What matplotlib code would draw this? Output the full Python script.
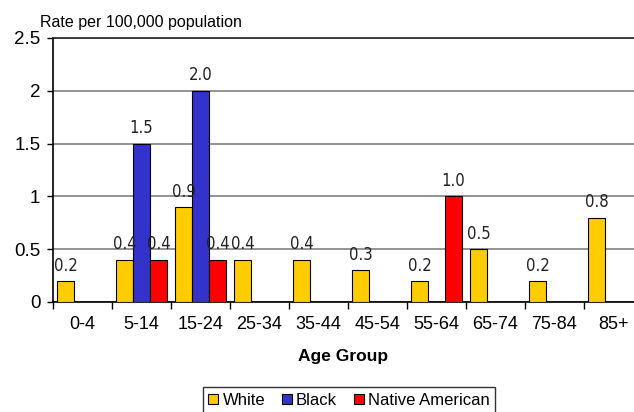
import matplotlib
matplotlib.use("Agg")
import matplotlib.pyplot as plt
import numpy as np

age_groups = ["0-4", "5-14", "15-24", "25-34", "35-44", "45-54", "55-64", "65-74", "75-84", "85+"]
white = [0.2, 0.4, 0.9, 0.4, 0.4, 0.3, 0.2, 0.5, 0.2, 0.8]
black = [0, 1.5, 2.0, 0, 0, 0, 0, 0, 0, 0]
native_american = [0, 0.4, 0.4, 0, 0, 0, 1.0, 0, 0, 0]
series_names = ["White", "Black", "Native American"]
colors = ["#FFCC00", "#3333CC", "#FF0000"]
y_ticks = [0, 0.5, 1, 1.5, 2, 2.5]
y_tick_labels = ["0", "0.5", "1", "1.5", "2", "2.5"]

plt.rcParams['font.family'] = ['Liberation Sans', 'DejaVu Sans']

fig = plt.figure(figsize=(6.34, 4.12), dpi=100)
ax = fig.add_axes([53/634, 110/412, 1 - 53/634, (302 - 38)/412])

x = np.arange(len(age_groups))
w = 0.29
for k, (vals, name, c) in enumerate(zip([white, black, native_american], series_names, colors)):
    xs = x + (k - 1) * w
    ax.bar(xs, vals, width=w, color=c, edgecolor="black", linewidth=0.8, label=name, zorder=3)
    for xi, v in zip(xs, vals):
        if v > 0:
            ax.text(xi, v + 0.06, f"{v:.1f}", ha="center", va="bottom", fontsize=12,
                    family=['DejaVu Sans'], fontstretch='condensed', fontweight='light',
                    color="#222222", zorder=4)

ax.set_xlim(-0.5, -0.5 + 581/59)
ax.set_ylim(0, 2.5)
ax.set_yticks(y_ticks)
ax.set_yticklabels(y_tick_labels, fontsize=13.5)
ax.yaxis.grid(True, color="#808080", linewidth=1.2, zorder=0)
ax.set_axisbelow(True)

ax.set_xticks(x)
ax.set_xticklabels(age_groups, fontsize=13)
ax.tick_params(axis="x", which="major", length=0, pad=10)
ax.set_xticks(np.arange(len(age_groups)) - 0.5, minor=True)
ax.tick_params(axis="x", which="minor", length=5, width=1, direction="out")
ax.tick_params(axis="y", length=4, width=1, pad=5)

ax.spines["right"].set_visible(False)
ax.spines["top"].set_color("#222222")
ax.spines["top"].set_linewidth(1.2)
ax.spines["left"].set_linewidth(1.2)
ax.spines["bottom"].set_linewidth(1.2)

fig.text(40/634, 1 - 22/412, "Rate per 100,000 population", fontsize=11.5, ha="left", va="center")
fig.text(343/634, 1 - 357/412, "Age Group", fontsize=12.5, fontweight="bold", ha="center", va="center")

leg = fig.legend(loc="upper center", bbox_to_anchor=(349/634, 25/412), ncol=3, fontsize=12,
                 frameon=True, fancybox=False, edgecolor="black", handlelength=0.6,
                 handleheight=0.6, handletextpad=0.25, columnspacing=1.0, borderpad=0.35,
                 borderaxespad=0)
leg.get_frame().set_linewidth(1.0)
for h in leg.legend_handles:
    h.set_edgecolor("black")
    h.set_linewidth(0.8)

fig.savefig("out.png", dpi=100)
